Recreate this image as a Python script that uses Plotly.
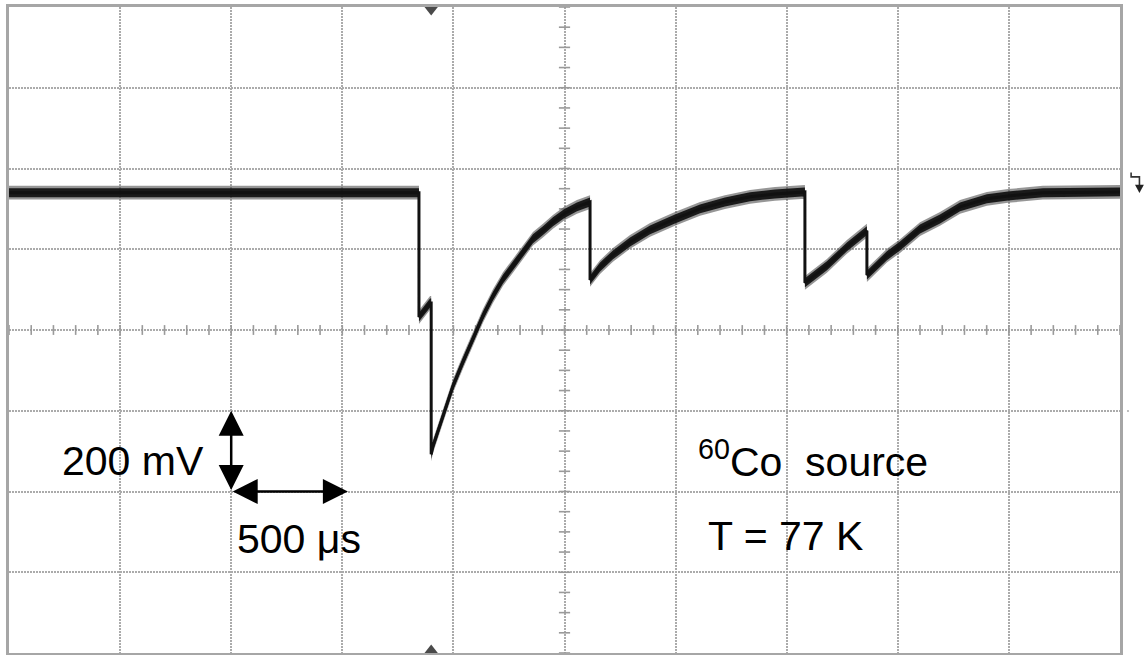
import plotly.graph_objects as go

# Oscilloscope capture: 500 us/div horizontally, 200 mV/div vertically
time_us = [0, 1845, 1845, 1895, 1900, 1900, 1908, 1953, 1998, 2043, 2088, 2133, 2178,
           2223, 2268, 2313, 2358, 2403, 2448, 2498, 2556, 2615, 2615, 2660, 2718,
           2795, 2885, 2997, 3110, 3222, 3335, 3447, 3582, 3582, 3681, 3771, 3861,
           3861, 3951, 4010, 4100, 4190, 4280, 4401, 4496, 4653, 4878, 5000]
signal_mv = [340, 340, 32, 67, 67, -308, -288, -213, -139, -79, -22, 35, 84,
             126, 159, 193, 226, 246, 268, 288, 305, 317, 124, 156, 186,
             218, 248, 275, 300, 317, 330, 337, 342, 117, 159, 206, 246,
             136, 184, 208, 250, 275, 305, 325, 332, 340, 342, 342]

x_ticks = list(range(0, 5001, 500))
y_ticks = list(range(-800, 801, 200))
x_minor = list(range(0, 5001, 100))
y_minor = list(range(-800, 801, 50))

TRIGGER_US = 1900

FONT = "Liberation Sans, Arial, sans-serif"
GRID = "#ababab"
FRAME = "#a6a6a6"

# visual thickness of the noisy trace (mV)
outer_half = 17
inner_half = 11

fig = go.Figure()

# centre graticule minor ticks
fig.add_trace(go.Scatter(x=x_minor, y=[0] * len(x_minor), mode="markers",
                         marker=dict(symbol="line-ns", size=7,
                                     line=dict(width=1.6, color="#9a9a9a")),
                         hoverinfo="skip", showlegend=False))
fig.add_trace(go.Scatter(x=[2500] * len(y_minor), y=y_minor, mode="markers",
                         marker=dict(symbol="line-ew", size=8,
                                     line=dict(width=1.6, color="#9a9a9a")),
                         hoverinfo="skip", showlegend=False))

# noise band around the trace
for half, col in [(outer_half, "rgba(80,80,80,0.6)"), (inner_half, "rgba(15,15,15,0.92)")]:
    fig.add_trace(go.Scatter(x=time_us, y=[v - half for v in signal_mv], mode="lines",
                             line=dict(width=0), hoverinfo="skip", showlegend=False))
    fig.add_trace(go.Scatter(x=time_us, y=[v + half for v in signal_mv], mode="lines",
                             line=dict(width=0), fill="tonexty", fillcolor=col,
                             hoverinfo="skip", showlegend=False))

# the trace itself
fig.add_trace(go.Scatter(x=time_us, y=signal_mv, mode="lines",
                         line=dict(color="#111111", width=3),
                         hoverinfo="skip", showlegend=False))

axis_common = dict(showticklabels=False, ticks="", zeroline=False,
                   showgrid=True, gridcolor=GRID, gridwidth=1.5, griddash="1.5px,1.5px",
                   showline=True, mirror=True, linecolor=FRAME, linewidth=2.5)

fig.update_xaxes(range=[0, 5000], tickvals=x_ticks, **axis_common)
fig.update_yaxes(range=[-800, 800], tickvals=y_ticks, **axis_common)

annotations = [
    dict(x=230, y=-325, text="200 mV", xanchor="left", yanchor="middle"),
    dict(x=1018, y=-518, text="500 \u03bcs", xanchor="left", yanchor="middle"),
    dict(x=3090, y=-320, text="<sup>60</sup>Co\u00a0 source", xanchor="left", yanchor="middle"),
    dict(x=3135, y=-511, text="T = 77 K", xanchor="left", yanchor="middle"),
]
for a in annotations:
    a.update(xref="x", yref="y", showarrow=False,
             font=dict(family=FONT, size=41, color="black"))

# scale arrows: one division each
arrows = [
    dict(x=1000, y=-200, ax=1000, ay=-400),
    dict(x=1525, y=-400, ax=1000, ay=-400),
]
for a in arrows:
    a.update(xref="x", yref="y", axref="x", ayref="y", text="", showarrow=True,
             arrowhead=2, arrowside="end+start", arrowsize=2, arrowwidth=2.5,
             arrowcolor="black", standoff=0, startstandoff=0)

shapes = [
    # trigger position markers
    dict(type="path", xref="x", yref="paper",
         path=f"M {TRIGGER_US - 30},1 L {TRIGGER_US + 30},1 L {TRIGGER_US},0.987 Z",
         fillcolor="#4a4a4a", line=dict(width=0)),
    dict(type="path", xref="x", yref="paper",
         path=f"M {TRIGGER_US - 30},0 L {TRIGGER_US + 30},0 L {TRIGGER_US},0.013 Z",
         fillcolor="#4a4a4a", line=dict(width=0)),
    # trigger level glyph on the right edge
    dict(type="path", xref="paper", yref="paper",
         path="M 1.0100,0.744 L 1.0100,0.737 L 1.0175,0.737 L 1.0175,0.722",
         line=dict(color="#333333", width=1.6)),
    dict(type="path", xref="paper", yref="paper",
         path="M 1.0135,0.725 L 1.0215,0.725 L 1.0175,0.712 Z",
         fillcolor="#222222", line=dict(width=0)),
    dict(type="circle", xref="paper", yref="paper",
         x0=1.0063, x1=1.0081, y0=0.3732, y1=0.3760,
         fillcolor="#aaaaaa", line=dict(width=0)),
]

fig.update_layout(width=1145, height=655,
                  margin=dict(l=9, r=25, t=7, b=2),
                  paper_bgcolor="white", plot_bgcolor="white",
                  annotations=annotations + arrows, shapes=shapes,
                  showlegend=False)

fig.write_html("out.html")
